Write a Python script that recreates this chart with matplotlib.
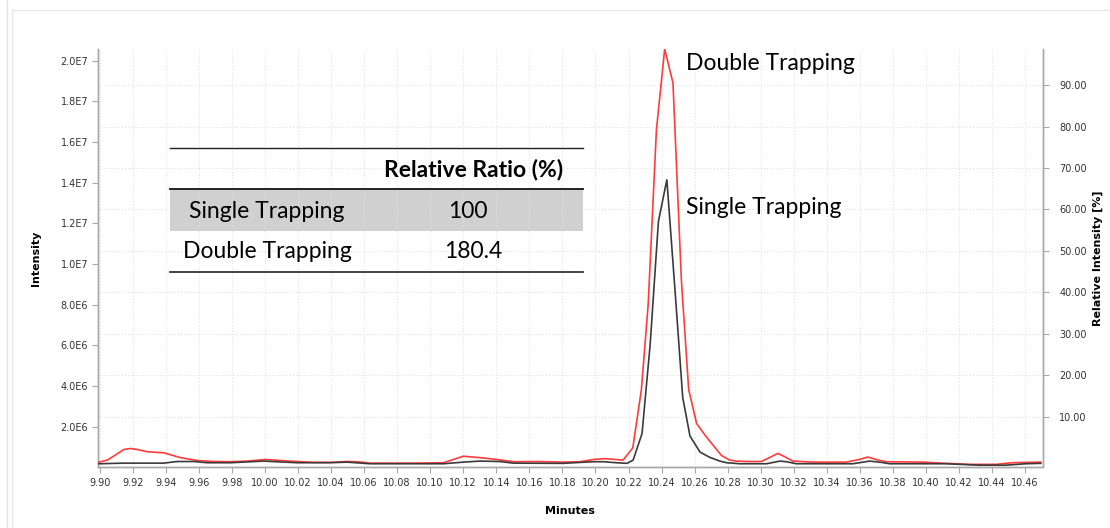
import matplotlib
matplotlib.use("Agg")
import matplotlib.pyplot as plt
from matplotlib.patches import Rectangle
from matplotlib.lines import Line2D
import numpy as np

# retention time (min) and intensity (x1e6)
t_double = [9.8996, 9.9047, 9.9147, 9.9187, 9.9228, 9.9288, 9.9388, 9.9489, 9.9590,
            9.9690, 9.9791, 9.9892, 10.0003, 10.0093, 10.0194, 10.0295, 10.0395,
            10.0496, 10.0557, 10.0637, 10.0899, 10.1080, 10.1140, 10.1201, 10.1302,
            10.1402, 10.1503, 10.1644, 10.1805, 10.1906, 10.1986, 10.2057, 10.2167,
            10.2226, 10.2278, 10.2319, 10.2369, 10.2419, 10.2469, 10.2520, 10.2564,
            10.2612, 10.2667, 10.2762, 10.2812, 10.2852, 10.2913, 10.3003, 10.3053,
            10.3104, 10.3144, 10.3194, 10.3315, 10.3517, 10.3597, 10.3647, 10.3698,
            10.3758, 10.3979, 10.4121, 10.4262, 10.4423, 10.4523, 10.4695]
i_double = [0.26, 0.36, 0.88, 0.93, 0.88, 0.77, 0.72, 0.48, 0.34,
            0.29, 0.28, 0.31, 0.39, 0.34, 0.29, 0.25, 0.25,
            0.29, 0.28, 0.21, 0.21, 0.23, 0.39, 0.55, 0.48,
            0.39, 0.28, 0.29, 0.26, 0.28, 0.39, 0.43, 0.36,
            0.96, 3.83, 8.0, 16.6, 20.57, 18.9, 9.2, 3.83,
            2.16, 1.54, 0.59, 0.36, 0.31, 0.29, 0.29, 0.48,
            0.69, 0.53, 0.31, 0.26, 0.26, 0.39, 0.51, 0.39,
            0.28, 0.26, 0.20, 0.15, 0.15, 0.23, 0.26]

t_single = [9.8996, 9.9147, 9.9388, 9.9469, 9.9570, 9.9651, 9.9791, 9.9993, 10.0194,
            10.0395, 10.0496, 10.0637, 10.1080, 10.1201, 10.1302, 10.1422, 10.1503,
            10.1805, 10.1986, 10.2047, 10.2127, 10.2191, 10.2228, 10.2282, 10.2331,
            10.2381, 10.2432, 10.2482, 10.2528, 10.2572, 10.2633, 10.2693, 10.2753,
            10.2794, 10.2874, 10.3035, 10.3116, 10.3156, 10.3216, 10.3558, 10.3659,
            10.3720, 10.3780, 10.4121, 10.4322, 10.4483, 10.4604, 10.4695]
i_single = [0.18, 0.21, 0.21, 0.29, 0.29, 0.23, 0.23, 0.31, 0.23,
            0.23, 0.26, 0.18, 0.18, 0.26, 0.31, 0.29, 0.21,
            0.20, 0.28, 0.28, 0.23, 0.20, 0.36, 1.67, 6.04,
            12.09, 14.14, 8.64, 3.44, 1.54, 0.75, 0.49, 0.31,
            0.23, 0.18, 0.18, 0.31, 0.28, 0.18, 0.18, 0.31,
            0.26, 0.18, 0.18, 0.11, 0.11, 0.18, 0.20]

x_ticks = np.round(np.arange(9.90, 10.465, 0.02), 2)
left_ticks = [2e6, 4e6, 6e6, 8e6, 10e6, 12e6, 14e6, 16e6, 18e6, 20e6]
left_labels = ["2.0E6", "4.0E6", "6.0E6", "8.0E6", "1.0E7", "1.2E7", "1.4E7",
               "1.6E7", "1.8E7", "2.0E7"]
right_ticks = [10, 20, 30, 40, 50, 60, 70, 80, 90]

table_rows = ["Single Trapping", "Double Trapping"]
table_ratio = ["100", "180.4"]

W, H = 1110, 528
fig = plt.figure(figsize=(W / 100, H / 100), dpi=100)
fig.patch.set_facecolor("white")

def fx(px):
    return px / W

def fy(py):
    return 1 - py / H

# faint outer frame like the screenshot (left and top edges only)
fig.add_artist(Line2D([fx(7), fx(7)], [0, 1], color="#e6e6e6", lw=1))
fig.add_artist(Line2D([fx(12), fx(12)], [0, fy(10)], color="#e6e6e6", lw=1))
fig.add_artist(Line2D([fx(12), 1], [fy(10), fy(10)], color="#e6e6e6", lw=1))

ax = fig.add_axes([fx(98), fy(467), fx(1042.5) - fx(98), fy(49) - fy(467)])
ax2 = ax.twinx()

ax.plot(t_double, np.array(i_double) * 1e6, color="#ff3b3b", lw=1.2, zorder=3)
ax.plot(t_single, np.array(i_single) * 1e6, color="#3a3a3a", lw=1.2, zorder=4)

ax.set_xlim(9.899, 10.4705)
ax.set_ylim(0.02e6, 20.57e6)
ax2.set_ylim(-2.1, 98.7)

spine_c = "#a8a8a8"
tick_c = "#333333"
for a in (ax, ax2):
    a.spines["top"].set_visible(False)
    for s in ("left", "right", "bottom"):
        a.spines[s].set_color(spine_c)
        a.spines[s].set_linewidth(1.0)
    a.tick_params(colors=spine_c, labelcolor=tick_c, labelsize=7, length=4, width=0.8)

ax.set_xticks(x_ticks)
ax.set_xticklabels([f"{v:.2f}" for v in x_ticks])
ax.set_yticks(left_ticks)
ax.set_yticklabels(left_labels)
ax2.set_yticks(right_ticks)
ax2.set_yticklabels([f"{v:.2f}" for v in right_ticks])
ax.tick_params(axis="x", pad=4)
ax.tick_params(axis="y", pad=3)
ax2.tick_params(axis="y", pad=8)

ax.grid(axis="x", color="#e2e2e2", ls=":", lw=0.8)
ax.grid(axis="y", visible=False)
ax2.grid(axis="y", color="#e2e2e2", ls=":", lw=0.8)
ax2.grid(axis="x", visible=False)
ax.set_zorder(ax2.get_zorder() + 1)
ax.patch.set_visible(False)

ax.set_xlabel("Minutes", fontsize=8, fontweight="bold")
ax.xaxis.set_label_coords(0.5, -0.094)
ax.set_ylabel("Intensity", fontsize=8, fontweight="bold")
ax.yaxis.set_label_coords(-0.060, 0.5)
ax2.set_ylabel("Relative Intensity [%]", fontsize=8, fontweight="bold")
ax2.yaxis.set_label_coords(1.053, 0.5)

font = "Lato"
fs = 16.5
ax.text(10.2545, 19.85e6, "Double Trapping", fontsize=fs, family=font,
        va="center", ha="left", color="black")
ax.text(10.2545, 12.8e6, "Single Trapping", fontsize=fs, family=font,
        va="center", ha="left", color="black")

# ratio table drawn on the figure
x0, x1 = fx(170), fx(583)
fig.add_artist(Rectangle((x0, fy(231)), x1 - x0, fy(189) - fy(231),
                         facecolor="#d0d0d0", edgecolor="none"))
fig.add_artist(Line2D([x0, x1], [fy(148), fy(148)], color="#222222", lw=1.0))
fig.add_artist(Line2D([x0, x1], [fy(189), fy(189)], color="#222222", lw=1.4))
fig.add_artist(Line2D([x0, x1], [fy(272), fy(272)], color="#222222", lw=1.2))
fig.text(fx(474), fy(170), "Relative Ratio (%)", fontsize=fs, family=font,
         fontweight="bold", ha="center", va="center")
row_y = [211, 252]
row_x = [267, 267]
val_x = [468, 473]
for name, val, yy, xn, xv in zip(table_rows, table_ratio, row_y, row_x, val_x):
    fig.text(fx(xn), fy(yy), name, fontsize=fs, family=font, ha="center", va="center")
    fig.text(fx(xv), fy(yy), val, fontsize=fs, family=font, ha="center", va="center")

fig.savefig("out.png", dpi=100)
